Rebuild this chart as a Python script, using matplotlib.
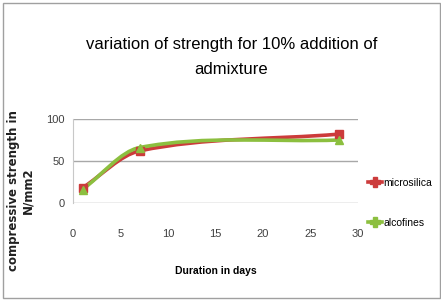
import numpy as np
import matplotlib.pyplot as plt
from matplotlib.path import Path
from matplotlib.patches import PathPatch, Rectangle

# data
days = [1, 7, 28]
microsilica = [18, 62, 82]
alcofines = [16, 66, 75]

narrow = 'Liberation Sans'


def smooth_path(x, y):
    # cubic hermite through the points, drawn as bezier segments
    x = np.asarray(x, float)
    y = np.asarray(y, float)
    n = len(x)
    slopes = []
    for i in range(n):
        a, b = max(i - 1, 0), min(i + 1, n - 1)
        slopes.append((y[b] - y[a]) / (x[b] - x[a]))
    verts = [(x[0], y[0])]
    codes = [Path.MOVETO]
    for i in range(n - 1):
        dx = (x[i + 1] - x[i]) / 3
        verts += [(x[i] + dx, y[i] + slopes[i] * dx),
                  (x[i + 1] - dx, y[i + 1] - slopes[i + 1] * dx),
                  (x[i + 1], y[i + 1])]
        codes += [Path.CURVE4] * 3
    return Path(verts, codes)


fig = plt.figure(figsize=(4.41, 3.02), dpi=100)
fig.patches.append(Rectangle((0.007, 0.012), 0.99, 0.978, transform=fig.transFigure,
                             fill=False, edgecolor='#a0a0a0', linewidth=1))
ax = fig.add_axes([73 / 441, 1 - 203 / 302, (358 - 73) / 441, (203 - 119) / 302])

red = '#cc3b3b'
green = '#8cbf3f'
ax.add_patch(PathPatch(smooth_path(days, microsilica), fill=False, edgecolor=red, linewidth=2.6))
ax.add_patch(PathPatch(smooth_path(days, alcofines), fill=False, edgecolor=green, linewidth=2.6))
ax.plot(days, microsilica, linestyle='none', marker='s', markersize=6, color=red)
ax.plot(days, alcofines, linestyle='none', marker='^', markersize=6, color=green)
ax.plot([], [], color=red, linewidth=2.6, marker='P', markersize=7, label='microsilica')
ax.plot([], [], color=green, linewidth=2.6, marker='P', markersize=7, label='alcofines')

ax.set_xlim(0, 30)
ax.set_ylim(0, 100)
ax.set_xticks(range(0, 31, 5))
ax.set_yticks([0, 50, 100])
ax.grid(axis='y', color='#a8a8a8', linewidth=1)
ax.set_axisbelow(True)
for s in ['top', 'right', 'bottom']:
    ax.spines[s].set_visible(False)
ax.spines['left'].set_color('#c8c8c8')
ax.tick_params(axis='y', length=0, labelsize=8, pad=6)
ax.tick_params(axis='x', length=0, labelsize=8, pad=19)
for lab in ax.get_xticklabels() + ax.get_yticklabels():
    lab.set_fontfamily(narrow)
    lab.set_color('#404040')

ax.set_xlabel('Duration in days', fontfamily=narrow, fontsize=7.5, fontweight='bold', labelpad=19)
fig.text(0.047, 0.37, 'compressive strength in\nN/mm2', rotation=90, ha='center', va='center',
         fontsize=8.5, fontweight='bold', color='#202020', linespacing=1.05)

fig.text(0.525, 0.81, 'variation of strength for 10% addition of\nadmixture', ha='center', va='center',
         fontfamily=narrow, fontsize=12, color='#000000', linespacing=1.85)

leg = ax.legend(loc='center left', bbox_to_anchor=(1.02, -0.0), frameon=False,
                prop={'family': narrow, 'size': 7.5}, handlelength=1.4, handletextpad=0.1,
                labelspacing=2.9, borderaxespad=0)

fig.savefig('out.png', dpi=100)
